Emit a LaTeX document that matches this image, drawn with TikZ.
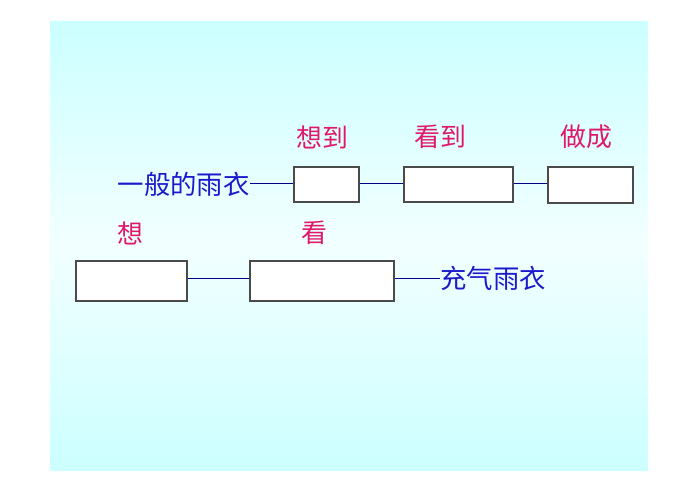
\documentclass[tikz,border=0pt]{standalone}
\usepackage{fontspec}
\newfontfamily\cjk{Noto Sans CJK SC}
\definecolor{bgcyan}{HTML}{CCFFFF}
\definecolor{bglight}{HTML}{F2FFFF}
\definecolor{txtblue}{HTML}{1A1ACC}
\definecolor{linenavy}{HTML}{00008B}
\definecolor{lblred}{HTML}{E0186C}
\definecolor{boxgray}{HTML}{4A4A4A}
\begin{document}
\begin{tikzpicture}[x=1bp,y=-1bp,
  blank/.style={draw=boxgray,line width=1.3bp,fill=white,rectangle,inner sep=0pt},
  conn/.style={draw=linenavy,line width=1bp},
  maintext/.style={font=\cjk\fontsize{26.5}{30}\selectfont,text=txtblue,inner sep=0pt},
  lbl/.style={font=\cjk\fontsize{26}{30}\selectfont,text=lblred,inner sep=0pt}]
\useasboundingbox (0,0) rectangle (698,493);
\shade[top color=bgcyan,bottom color=bgcyan,middle color=bglight] (50,22) rectangle (648,470);
% boxes
\node[blank,minimum width=65bp,minimum height=35bp] (bA) at (326.5,184.5) {};
\node[blank,minimum width=109bp,minimum height=35bp] (bB) at (458.5,184.5) {};
\node[blank,minimum width=85bp,minimum height=36bp] (bC) at (590.5,185) {};
\node[blank,minimum width=111bp,minimum height=40bp] (bD) at (131.5,281) {};
\node[blank,minimum width=144bp,minimum height=40bp] (bE) at (322,281) {};
% texts
\node[maintext,anchor=east] (t1) at (250,184) {一般的雨衣};
\node[maintext,anchor=west] (t2) at (440,278) {充气雨衣};
% connectors
\path[conn] (t1.east) -- (bA.west |- t1.east);
\path[conn] (bA.east |- t1.east) -- (bB.west |- t1.east);
\path[conn] (bB.east |- t1.east) -- (bC.west |- t1.east);
\path[conn] (bD.east |- t2.west) -- (bE.west |- t2.west);
\path[conn] (bE.east |- t2.west) -- (t2.west);
% labels
\node[lbl,anchor=west] (l1) at (296,137) {想到};
\node[lbl,anchor=west] (l2) at (414,137) {看到};
\node[lbl,anchor=west] (l3) at (560,137) {做成};
\node[lbl,anchor=west] (l4) at (117,233) {想};
\node[lbl,anchor=west] (l5) at (301,233) {看};
\end{tikzpicture}
\end{document}
